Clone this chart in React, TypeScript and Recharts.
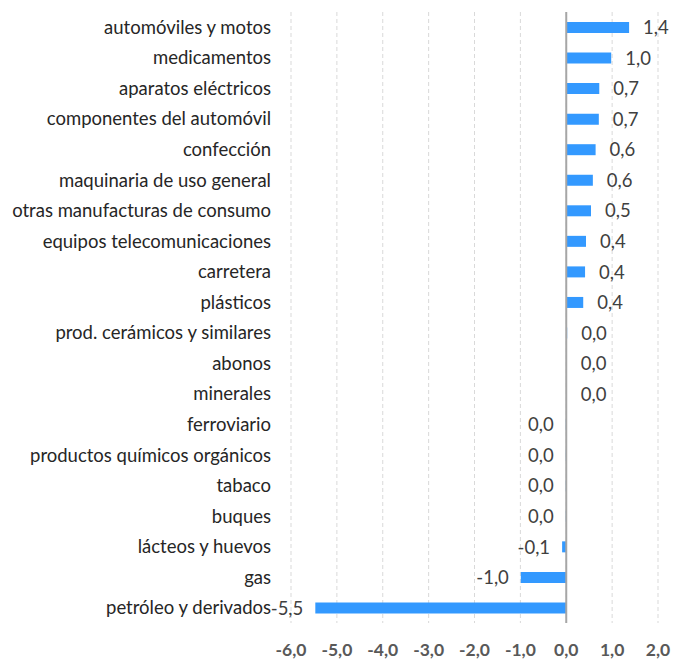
import { Bar, BarChart, CartesianGrid, LabelList, ReferenceLine, XAxis, YAxis } from "recharts"

const categories = [
    "automóviles y motos",
    "medicamentos",
    "aparatos eléctricos",
    "componentes del automóvil",
    "confección",
    "maquinaria de uso general",
    "otras manufacturas de consumo",
    "equipos telecomunicaciones",
    "carretera",
    "plásticos",
    "prod. cerámicos y similares",
    "abonos",
    "minerales",
    "ferroviario",
    "productos químicos orgánicos",
    "tabaco",
    "buques",
    "lácteos y huevos",
    "gas",
    "petróleo y derivados",
]

const values = [1.37, 0.98, 0.72, 0.71, 0.64, 0.58, 0.54, 0.43, 0.41, 0.37, 0.02, 0.01, 0.01, -0.01, -0.01, -0.01, -0.01, -0.09, -0.99, -5.47]

const xTicks = [-6, -5, -4, -3, -2, -1, 0, 1, 2]

const data = categories.map((name, i) => ({ name, value: values[i] }))

const fmt = (v: number) => {
    const s = Math.abs(v) < 0.05 ? "0.0" : v.toFixed(1)
    return s.replace(".", ",")
}

const FONT = "Lato, 'Open Sans', sans-serif"

const ValueLabel = (props: any) => {
    const { x, y, width, height, value } = props
    const a = Number(x)
    const b = Number(x) + Number(width)
    const cy = Number(y) + Number(height) / 2
    const pos = value >= 0
    return (
        <text
            x={pos ? Math.max(a, b) + 14 : Math.min(a, b) - 12}
            y={cy}
            dy="0.36em"
            textAnchor={pos ? "start" : "end"}
            fontSize={18.5}
            fill="#404040"
            fontFamily={FONT}
        >
            {fmt(value)}
        </text>
    )
}

export default function App() {
    return (
        <div style={{ position: "absolute", left: 0, top: 0, background: "#fff" }}>
            <BarChart
                width={676}
                height={660}
                data={data}
                layout="vertical"
                margin={{ top: 12, right: 18, left: 0, bottom: 0 }}
                barCategoryGap={0}
            >
                <CartesianGrid horizontal={false} stroke="#d9d9d9" strokeDasharray="4 3" />
                <XAxis
                    type="number"
                    domain={[-6, 2]}
                    ticks={xTicks}
                    interval={0}
                    height={37}
                    axisLine={false}
                    tickLine={false}
                    tickMargin={15}
                    tickFormatter={fmt}
                    tick={{ fontSize: 17.5, fontWeight: 700, fill: "#595959", fontFamily: FONT }}
                />
                <YAxis
                    type="category"
                    dataKey="name"
                    width={291}
                    axisLine={false}
                    tickLine={false}
                    tickMargin={14}
                    interval={0}
                    tick={{ fontSize: 18.5, fill: "#262626", fontFamily: FONT }}
                />
                <ReferenceLine x={0} stroke="#a6a6a6" strokeWidth={2} />
                <Bar dataKey="value" fill="#3399ff" barSize={11} isAnimationActive={false}>
                    <LabelList dataKey="value" content={ValueLabel} />
                </Bar>
            </BarChart>
        </div>
    )
}
